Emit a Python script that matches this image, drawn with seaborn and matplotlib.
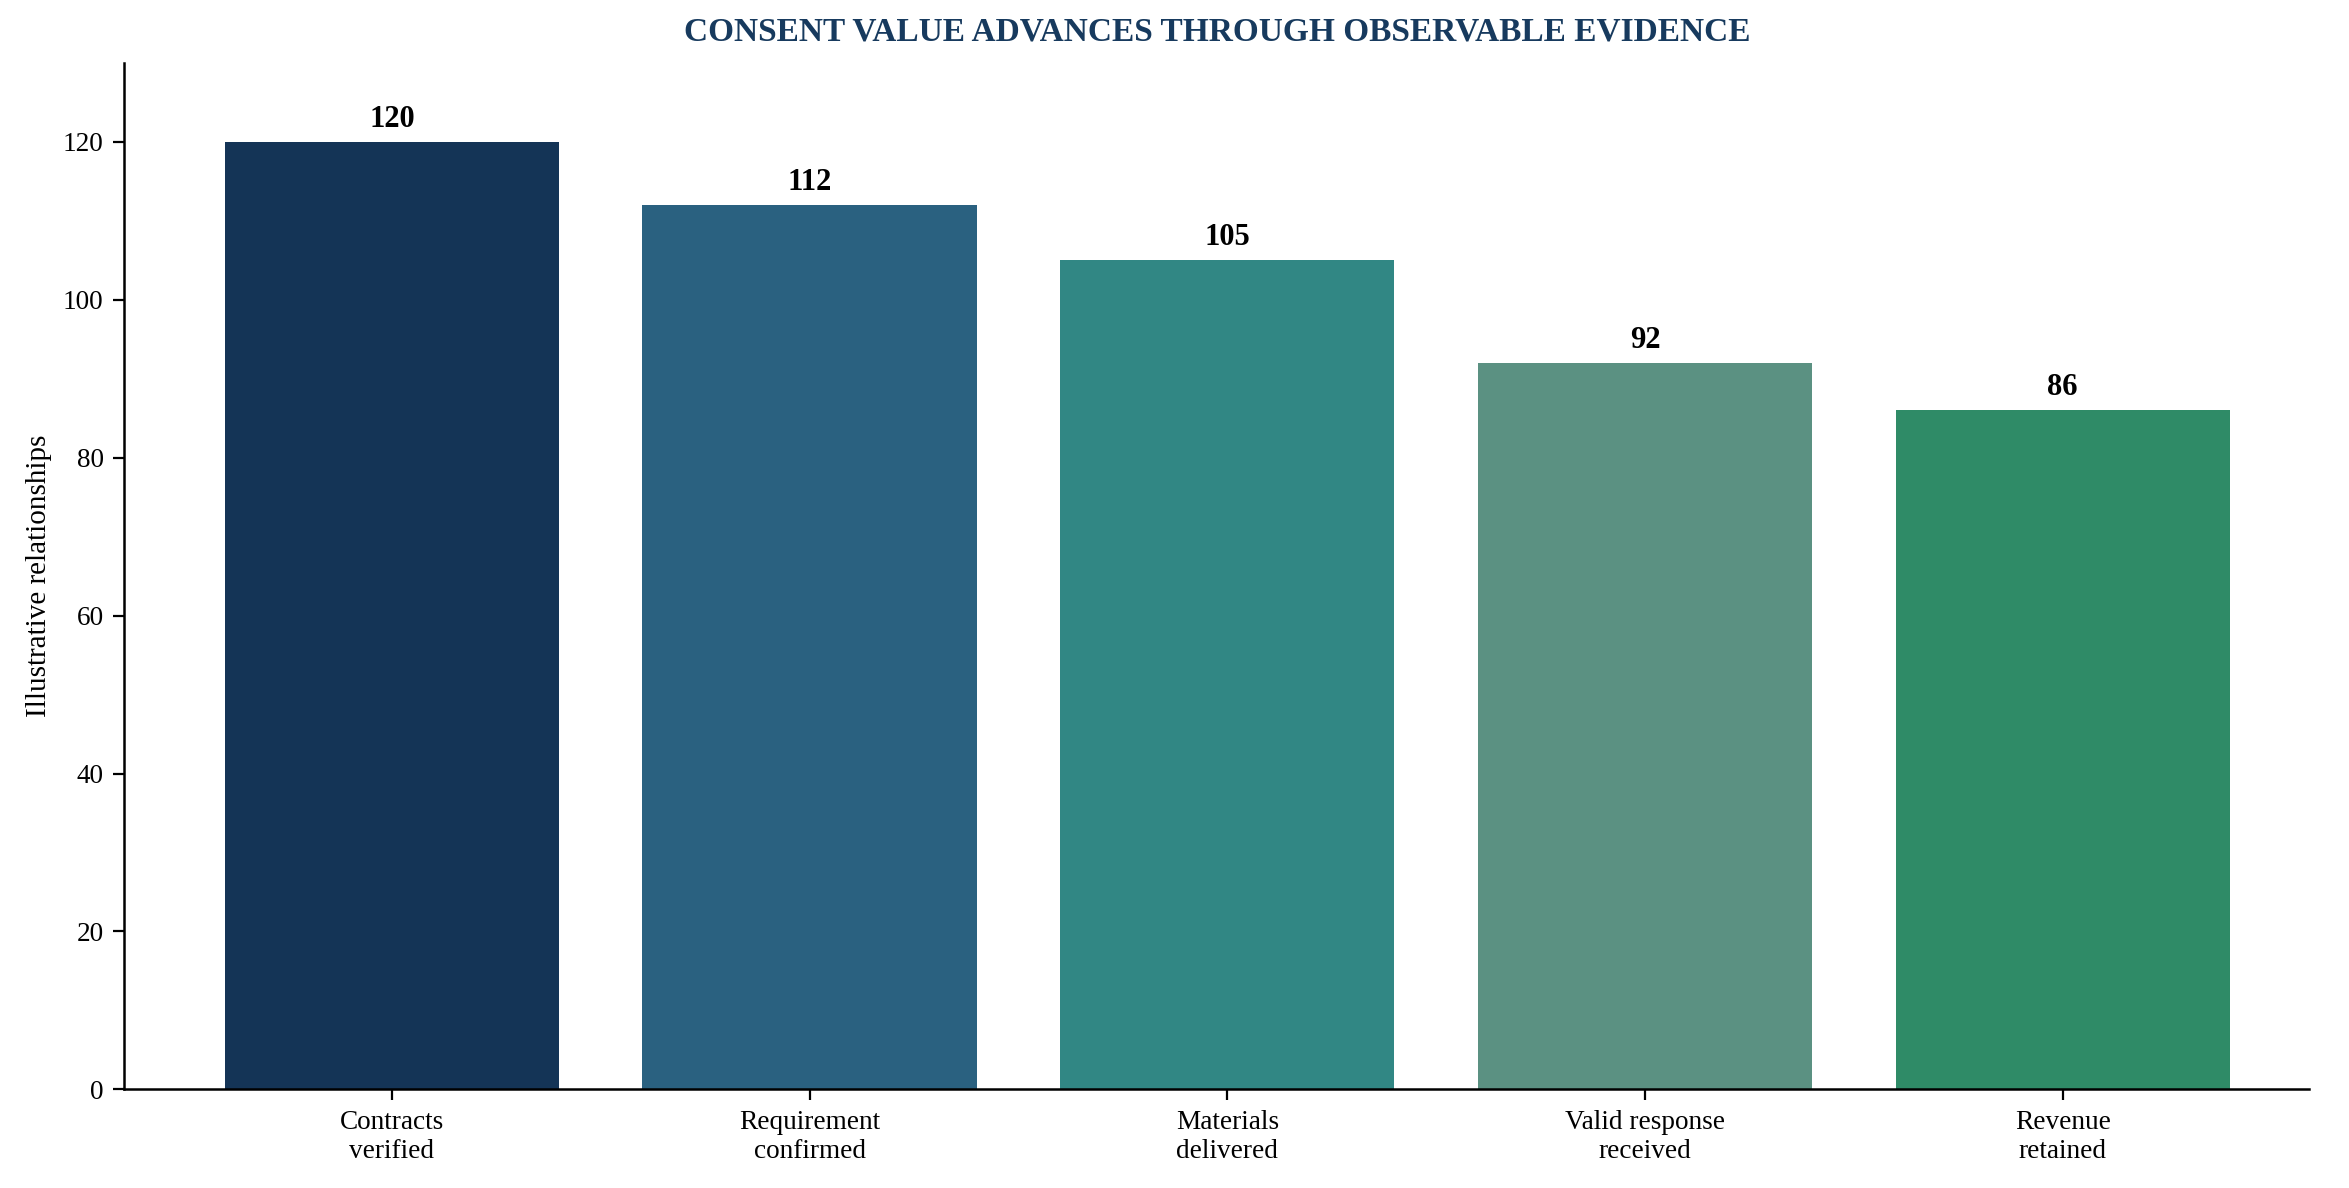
import matplotlib
matplotlib.use("Agg")
import matplotlib.pyplot as plt
import seaborn as sns
import pandas as pd

stages = ["Contracts\nverified", "Requirement\nconfirmed", "Materials\ndelivered",
          "Valid response\nreceived", "Revenue\nretained"]
values = [120, 112, 105, 92, 86]
colors = ["#143456", "#2a6180", "#318784", "#5b9182", "#2f8b67"]

sns.set_style("white")
plt.rcParams["font.family"] = ["Liberation Serif", "DejaVu Serif"]
plt.rcParams["text.color"] = "black"
plt.rcParams["axes.labelcolor"] = "black"

df = pd.DataFrame({"stage": stages, "value": values})

fig, ax = plt.subplots(figsize=(2349 / 200, 1188 / 200), dpi=200)
sns.barplot(data=df, x="stage", y="value", hue="stage", palette=colors,
            legend=False, width=0.8, saturation=1, ax=ax, edgecolor="none")

for c in ax.containers:
    ax.bar_label(c, fmt="%d", padding=3, fontsize=11, fontweight="bold", color="black")

ax.set_ylim(0, 130)
ax.set_xlim(-0.64, 4.59)
ax.set_xlabel("")
ax.set_ylabel("Illustrative relationships", fontsize=10.5, color="black")
ax.set_title("CONSENT VALUE ADVANCES THROUGH OBSERVABLE EVIDENCE",
             fontsize=12, fontweight="bold", color="#173a5e", pad=8)
ax.tick_params(axis="both", labelsize=9.8, length=4, width=0.8, colors="black", left=True, bottom=True)
sns.despine(ax=ax)
for s in ["left", "bottom"]:
    ax.spines[s].set_color("black")
    ax.spines[s].set_linewidth(0.9)

fig.subplots_adjust(left=0.053, right=0.983, top=0.947, bottom=0.083)
fig.savefig("out.png", dpi=200)
